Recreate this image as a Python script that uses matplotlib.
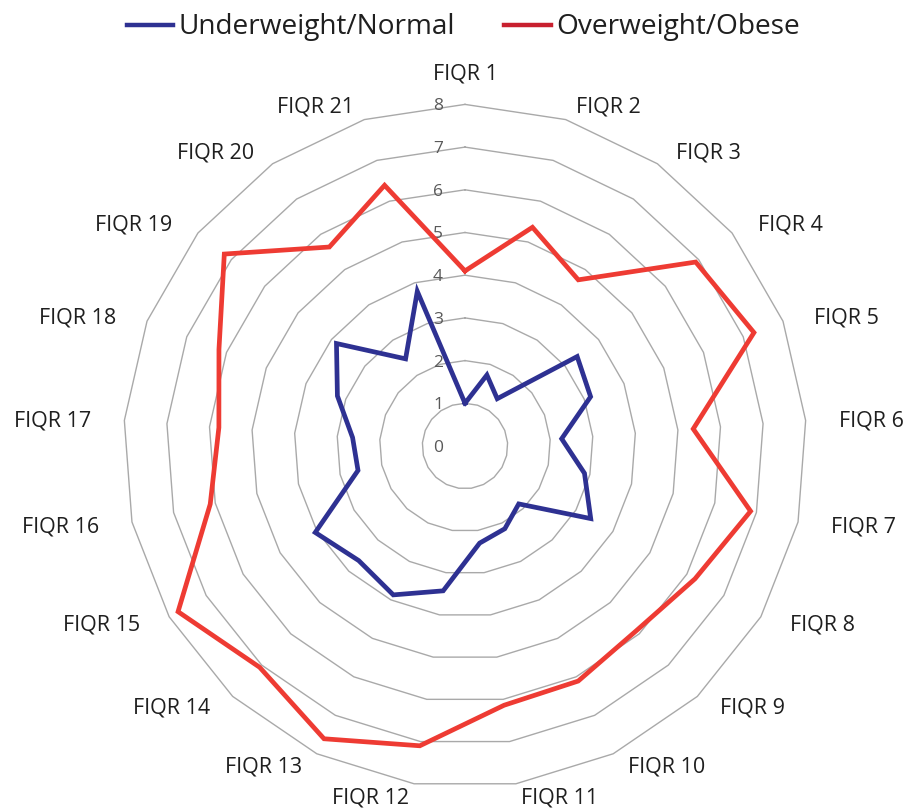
import numpy as np
import matplotlib
matplotlib.use("Agg")
import matplotlib.pyplot as plt
from matplotlib.lines import Line2D

plt.rcParams['font.family'] = ['Open Sans', 'DejaVu Sans']

categories = [f"FIQR {i}" for i in range(1, 22)]
underweight_normal = [1.0, 1.74, 1.34, 3.36, 3.16, 2.27, 2.87, 3.4, 1.85, 2.15, 2.3,
                      3.43, 3.87, 3.66, 4.05, 2.57, 2.64, 3.21, 3.85, 2.47, 3.79]
overweight_obese = [4.1, 5.36, 4.71, 6.91, 7.27, 5.36, 6.86, 6.22, 5.9, 6.11, 6.14,
                    7.1, 7.61, 7.07, 7.76, 6.12, 5.78, 6.19, 7.21, 5.64, 6.39]
ring_values = [1, 2, 3, 4, 5, 6, 7, 8]
tick_values = [0, 1, 2, 3, 4, 5, 6, 7, 8]
series_names = ["Underweight/Normal", "Overweight/Obese"]

BLUE = "#2E3192"
RED = "#EE3B33"
RED_LEG = "#C8202F"
GRID = "#A9A9A9"

W, H = 907, 808
fig = plt.figure(figsize=(W / 100, H / 100), dpi=100)
cx, cy, rpx = 465, 446, 8 * 42.7
ax = fig.add_axes([(cx - rpx) / W, (H - cy - rpx) / H, 2 * rpx / W, 2 * rpx / H],
                  projection='polar')
ax.set_theta_offset(np.pi / 2)
ax.set_theta_direction(-1)
ax.set_ylim(0, 8)
ax.grid(False)
ax.set_xticks([])
ax.set_yticks([])
ax.spines['polar'].set_visible(False)
ax.patch.set_visible(False)

n = len(categories)
angles = np.arange(n) * 2 * np.pi / n
closed = np.append(angles, angles[0])

for rv in ring_values:
    ax.plot(closed, [rv] * (n + 1), color=GRID, lw=1.0, zorder=1, clip_on=False)

for v in tick_values:
    ax.annotate(str(v), xy=(0, v), xytext=(-27, -2), textcoords='offset pixels',
                ha='center', va='center', fontsize=12.5, color='#595959', zorder=2)

ax.plot(closed, underweight_normal + underweight_normal[:1], color=BLUE, lw=3.4,
        zorder=3, clip_on=False, solid_joinstyle='miter')
ax.plot(closed, overweight_obese + overweight_obese[:1], color=RED, lw=3.4,
        zorder=3, clip_on=False, solid_joinstyle='miter')

for ang, lab in zip(angles, categories):
    s, c = np.sin(ang), np.cos(ang)
    if abs(s) < 0.01:
        ha = 'center'
        off = (0, 374 - 2)
    else:
        ha = 'left' if s > 0 else 'right'
        ry = 357 if c > 0 else 354
        off = (375 * s, ry * c - 2)
    ax.annotate(lab, xy=(0, 0), xytext=off, textcoords='offset pixels',
                ha=ha, va='center', fontsize=15.5, color='#1f1f1f',
                annotation_clip=False)

handles = [Line2D([], [], color=BLUE, lw=3.2), Line2D([], [], color=RED_LEG, lw=3.2)]
fig.legend(handles, series_names, loc='center', bbox_to_anchor=(0.511, 0.966),
           ncol=2, frameon=False, fontsize=20.2, handlelength=1.65, handletextpad=0.2,
           columnspacing=1.75, labelcolor='#1f1f1f')

fig.savefig("out.png", dpi=100, facecolor='white')
